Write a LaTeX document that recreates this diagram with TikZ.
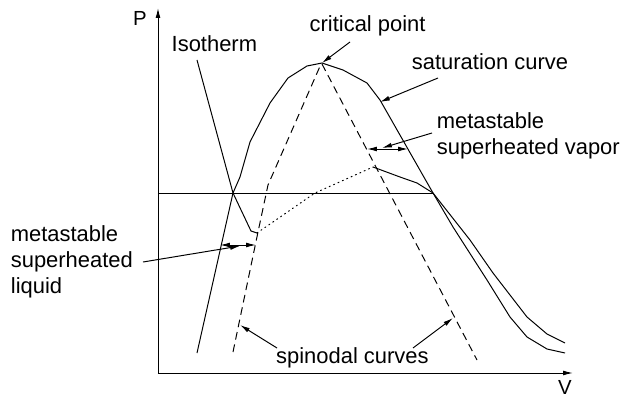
\documentclass[tikz,border=0pt]{standalone}
\usepackage{fontspec}
\setmainfont{Liberation Sans}
\usetikzlibrary{arrows.meta}

\begin{document}
\begin{tikzpicture}[x=1cm,y=1cm,line width=.7pt,
  lbl/.style={inner sep=0pt,font=\fontsize{15.6}{18.5}\selectfont},
  axl/.style={inner sep=0pt,font=\fontsize{14.5}{16}\selectfont},
  ptr/.style={-{Latex[length=7pt,width=3.4pt]}},
  dptr/.style={{Latex[length=7pt,width=3.4pt]}-{Latex[length=7pt,width=3.4pt]}},
  spin/.style={dash pattern=on 5.5pt off 3.5pt},
  meta/.style={dash pattern=on .8pt off 2.6pt,line cap=round}]
\useasboundingbox (-3.95,-.625) rectangle (11.75,9.325);
% axes
\coordinate (O) at (0,0);\coordinate (ytop) at (0,9.125);\coordinate (xend) at (10.375,0);
\draw[ptr] (O)--(ytop);\draw[ptr] (O)--(xend);
\node[axl] (P) at (-.45,8.875){P};
\node[axl] (V) at (10.175,-.36){V};
\coordinate (isoL) at (0,4.5);\coordinate (isoR) at (6.875,4.5);
\draw (isoL)--(isoR);
% saturation curve
\draw (.975,.5)--(1.875,4.5)--(2.05,4.9)--(2.3,5.775)--(2.8,6.75)--(3.25,7.375)--(3.725,7.675)--(4.1,7.75)--(4.625,7.575)--(5.225,7.25)--(5.55,6.825)--(6.875,4.5)--(7.375,3.65)--(8.225,2.325)--(8.8,1.4)--(9.225,.9)--(9.725,.6)--(10.175,.5);
% isotherm
\draw (.975,7.825)--(1.875,4.5)--(2.325,3.55)--(2.475,3.5);
\draw[meta] (2.475,3.5)--(3.925,4.5)--(5.375,5.15);
\draw (5.375,5.15)--(6.05,4.9)--(6.475,4.75)--(6.875,4.5)--(7.8,3.325)--(8.375,2.5)--(9.225,1.4)--(9.725,.975)--(10.175,.75);
% spinodals
\draw[spin] (1.875,.525)--(2.5,3.525)--(2.75,4.7)--(4.075,7.725);
\draw[spin] (4.1,7.725)--(7.975,.325);
% labels
\node[lbl,anchor=base] (iso) at (1.41,8.025){Isotherm};
\node[lbl,anchor=base] (crit) at (5.24,8.525){critical point};
\node[lbl,anchor=base] (sat) at (8.3,7.575){saturation curve};
\node[lbl,anchor=base] (spn) at (4.86,.25){spinodal curves};
\node[lbl,anchor=north west,align=left] (vap) at (6.96,6.525){metastable\\superheated vapor};
\node[lbl,anchor=north west,align=left] (liq) at (-3.69,3.7){metastable\\superheated\\liquid};
\coordinate (critA) at (4.8,8.275);\coordinate (critB) at (4.1,7.75);
\coordinate (satA) at (7.0,7.375);\coordinate (satB) at (5.55,6.775);
\coordinate (vapA) at (6.85,6.0);\coordinate (vapB) at (5.6,5.625);
\coordinate (vapL) at (5.225,5.6);\coordinate (vapR) at (6.25,5.6);
\coordinate (liqA) at (-.375,2.775);\coordinate (liqB) at (2.05,3.175);
\coordinate (liqL) at (1.55,3.2);\coordinate (liqR) at (2.45,3.2);
\coordinate (spA) at (2.975,.625);\coordinate (spB) at (2.05,1.2);
\coordinate (spC) at (6.375,.625);\coordinate (spD) at (7.375,1.375);
\foreach \a/\b in {critA/critB,satA/satB,vapA/vapB,liqA/liqB,spA/spB,spC/spD}{\draw[ptr] (\a)--(\b);}
\draw[dptr] (vapL)--(vapR);\draw[dptr] (liqL)--(liqR);
\end{tikzpicture}
\end{document}
